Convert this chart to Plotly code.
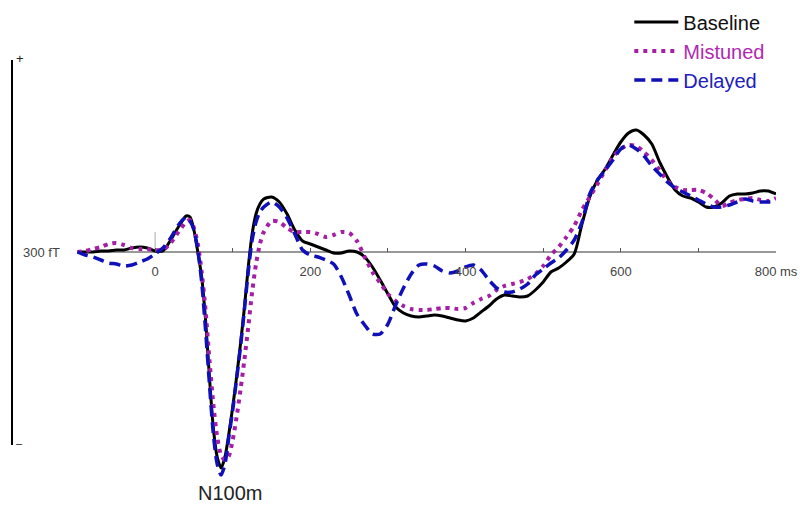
import plotly.graph_objects as go

# Time axis (ms): 10 ms steps, 5 ms steps around the N100m
time_ms = list(range(-100, 40, 10)) + list(range(40, 140, 5)) + list(range(140, 801, 10))

# Amplitudes (arbitrary fT units, positive up)
baseline = [0, 0, 0, 1, 1, 2, 2, 4, 5, 4, 1, 1, 12, 25,
            36, 35, 22, 0, -25, -68, -125, -176, -205, -216,
            -205, -182, -155, -125, -92, -56, -15, 18, 38, 48,
            53, 55, 50, 38, 22, 11,
            8, 5, 2, -1, -1, 1, 0, -5, -15, -28,
            -42, -55, -61, -64, -65, -64, -63, -64, -66, -68,
            -69, -66, -60, -54, -47, -43, -44, -45, -44, -38,
            -30, -20, -16, -10, -2, 28, 55, 72, 83, 97,
            110, 119, 122, 117, 108, 90, 75, 62, 56, 54,
            50, 45, 45, 49, 56, 58, 58, 59, 61, 61, 58]

mistuned = [0, 1, 3, 5, 8, 9, 7, 4, 3, 3, 2, 2, 9, 20,
            30, 32, 24, 8, -20, -58, -108, -152, -185, -203,
            -208, -204, -188, -165, -138, -108, -75, -40, -12, 8,
            20, 31, 30, 24, 20, 20,
            20, 18, 15, 17, 20, 19, 11, -5, -20, -31,
            -42, -49, -54, -57, -58, -58, -57, -56, -56, -57,
            -56, -51, -47, -44, -38, -34, -32, -30, -27, -22,
            -14, -3, 5, 15, 26, 42, 55, 68, 82, 95,
            103, 107, 106, 100, 92, 82, 71, 65, 62, 62,
            62, 59, 53, 46, 49, 52, 53, 54, 52, 51, 54]

delayed = [0, -3, -5, -8, -11, -12, -14, -13, -10, -7, -2, 4, 14, 27,
           35, 31, 22, 2, -30, -78, -132, -182, -212, -223,
           -212, -185, -158, -127, -95, -58, -20, 12, 30, 40,
           45, 50, 45, 34, 18, 2,
           -3, -5, -8, -12, -25, -43, -62, -73, -82, -82,
           -72, -53, -36, -22, -13, -12, -14, -19, -21, -19,
           -15, -13, -18, -28, -36, -40, -40, -37, -32, -23,
           -17, -11, -6, 2, 12, 30, 58, 72, 82, 92,
           103, 107, 103, 96, 86, 78, 70, 64, 60, 56,
           52, 48, 45, 45, 47, 50, 53, 51, 50, 50, 50]

series_names = ["Baseline", "Mistuned", "Delayed"]
series_colors = ["#000000", "#a51fa5", "#1010b8"]
label_colors = ["#111111", "#b02ab0", "#2020bc"]
tick_vals = [0, 100, 200, 300, 400, 500, 600, 700, 800]
tick_text = ["0", "", "200", "", "400", "", "600", "", "800 ms"]

X_RANGE = [-184.4, 800]
Y_RANGE = [-234, 252]

FONT = "Liberation Sans, Arial, sans-serif"

fig = go.Figure()
styles = [dict(width=3, dash="solid"),
          dict(width=4, dash="4px,5px"),
          dict(width=3.5, dash="11px,6px")]
for name, vals, col, lcol, st in zip(series_names, [baseline, mistuned, delayed],
                                     series_colors, label_colors, styles):
    fig.add_trace(go.Scatter(
        x=time_ms, y=vals, mode="lines",
        name=f"<span style='color:{lcol}'>{name}</span>",
        line=dict(color=col, width=st["width"], dash=st["dash"],
                  shape="spline", smoothing=0.7),
        hoverinfo="skip"))

# horizontal axis line from stimulus window start
fig.add_shape(type="line", xref="x", yref="y", x0=-100, x1=800, y0=0, y1=0,
              line=dict(color="#333333", width=1), layer="below")
# tall tick at 0
fig.add_shape(type="line", xref="x", yref="y", x0=0, x1=0, y0=0, y1=20,
              line=dict(color="#aaaaaa", width=1), layer="below")
# vertical amplitude bar
fig.add_shape(type="line", xref="paper", yref="y", x0=0, x1=0, y0=-193, y1=192,
              line=dict(color="#000000", width=2))

fig.add_annotation(xref="paper", yref="y", x=0.003, y=194, text="+",
                   showarrow=False, xanchor="left", yanchor="middle",
                   font=dict(family=FONT, size=13, color="#222"))
fig.add_annotation(xref="paper", yref="y", x=0.003, y=-191, text="–",
                   showarrow=False, xanchor="left", yanchor="middle",
                   font=dict(family=FONT, size=11, color="#222"))
fig.add_annotation(xref="paper", yref="y", x=0.012, y=0, text="300 fT",
                   showarrow=False, xanchor="left", yanchor="middle",
                   font=dict(family=FONT, size=13, color="#444"))

n100_y = (-241 - Y_RANGE[0]) / (Y_RANGE[1] - Y_RANGE[0])
fig.add_annotation(xref="x", yref="paper", x=97, y=n100_y, text="N100m",
                   showarrow=False, xanchor="center", yanchor="middle",
                   font=dict(family=FONT, size=20, color="#222"))

zero_pos = (0 - Y_RANGE[0]) / (Y_RANGE[1] - Y_RANGE[0])

fig.update_layout(
    width=800, height=506,
    margin=dict(l=12, r=24, t=0, b=20, autoexpand=False),
    plot_bgcolor="white", paper_bgcolor="white",
    font=dict(family=FONT),
    xaxis=dict(range=X_RANGE, showgrid=False, zeroline=False, showline=False,
               anchor="free", position=zero_pos, automargin=False,
               tickmode="array", tickvals=tick_vals, ticktext=tick_text,
               ticks="inside", ticklen=4, tickcolor="#555", tickwidth=1,
               ticklabelstandoff=10,
               tickfont=dict(family=FONT, size=13, color="#444")),
    yaxis=dict(range=Y_RANGE, visible=False, showgrid=False, zeroline=False,
               automargin=False),
    showlegend=True,
    legend=dict(x=0.808, y=0.995, xanchor="left", yanchor="top",
                bgcolor="rgba(0,0,0,0)", itemwidth=44,
                font=dict(family=FONT, size=20, color="#111"),
                tracegroupgap=0),
)

fig.write_html("out.html", config={"displayModeBar": False},
               post_script="document.body.style.margin='0';document.body.style.overflow='hidden';")
